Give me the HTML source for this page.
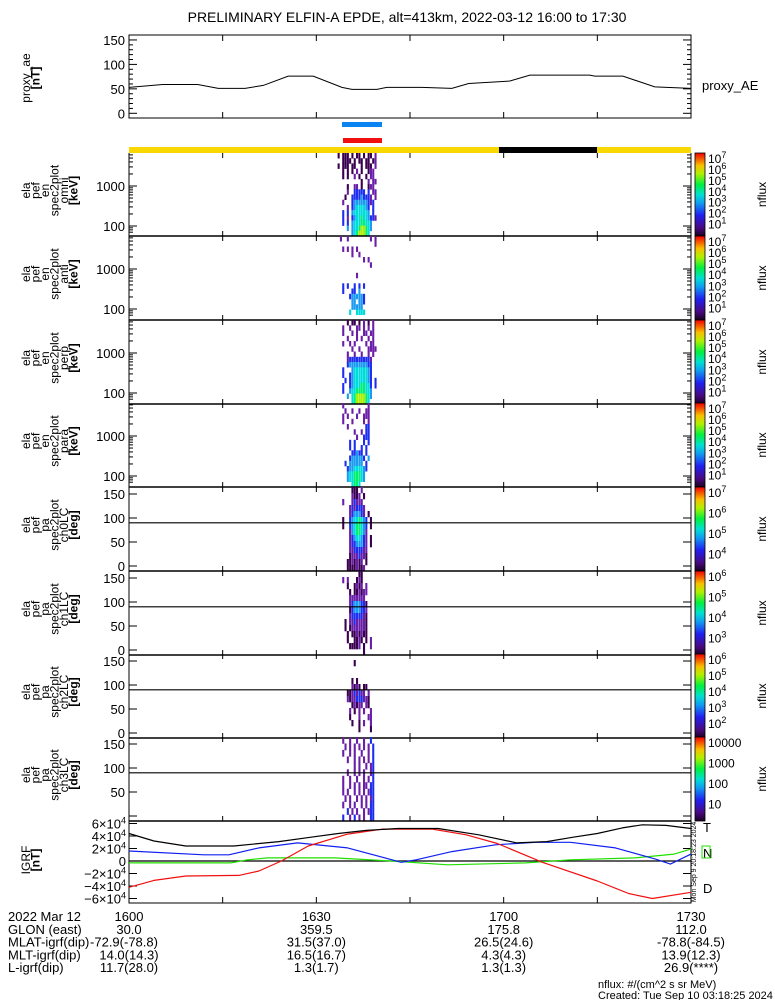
<!DOCTYPE html>
<html><head><meta charset="utf-8">
<style>
html,body{margin:0;padding:0;background:#fff;}
body{width:775px;height:1000px;position:relative;overflow:hidden;font-family:"Liberation Sans",sans-serif;}
svg{position:absolute;left:0;top:0;}
text{font-family:"Liberation Sans",sans-serif;fill:#000;}
</style></head>
<body>
<svg id="chart" width="775" height="1000" viewBox="0 0 775 1000"></svg>
<script>
// ---- data ----
const aeTimes = [0,5.4,11,14.3,18.6,21.5,25.5,29.5,34.1,35.7,39.7,41.3,46.9,51.7,54.4,61,64.2,73.8,74.6,79.1,84.2,90];
const aeValues = [53,59,59,51,51,57,76,76,53,49,49,53,53,51,61,66,78,78,76,76,54,51];
const aeTicks = [0,50,100,150];

const igrfTimes = [0,4,9.1,16.8,24,29,33.5,38,43,49.5,56,62.1,66.9,71,75,79,82.2,86,90];
const igrfT = [4.4e4,3.2e4,2.4e4,2.4e4,3.1e4,3.8e4,4.4e4,4.9e4,5.2e4,5.2e4,4.2e4,2.9e4,3.1e4,3.8e4,4.4e4,5.3e4,5.8e4,5.7e4,5.2e4];
const nTimes = [0,12,16,20.8,27,35,43.6,46,51.7,58.7,65.1,70.7,77.9,84.3,86.7,90];
const igrfN = [1.6e4,1.0e4,1.0e4,2.1e4,2.9e4,2.1e4,-0.2e4,0.2e4,1.5e4,2.6e4,3.0e4,3.0e4,2.1e4,0.3e4,-0.5e4,1.1e4];
const zTimes = [0,16.3,19,22.2,33,42,51,63.5,70.7,81,87.3,90];
const igrfZ = [-0.3e4,-0.3e4,0.2e4,0.5e4,0.5e4,0,-0.6e4,-0.3e4,0.2e4,0.5e4,1.1e4,1.9e4];
const dTimes = [0,4,9.1,17.6,20.8,24.4,28.7,35,40.6,48.6,54,59,66.2,75,80,83.8,90];
const igrfD = [-4.2e4,-3.1e4,-2.4e4,-2.3e4,-1.6e4,0,2.4e4,4.3e4,5.1e4,5.1e4,4.2e4,2.8e4,-0.2e4,-3.2e4,-5.2e4,-6e4,-5e4];
const igrfTicks = [-6,-4,-2,0,2,4,6];

const specStart = 33.4; // minutes after 1600 for first column
const specColMin = 0.37;
const omniRows = [
"0.000.0.00.0.00.1..",
"..0000.0.00.00.01..",
"0.000.00..0.000.1..",
"..0.0.0.1.0..011...",
"..0.0..1.0..0.11...",
"..........0..1.11..",
"....0..11.0..011...",
"....1..22222.2.11..",
"...0..222232221.1..",
"..1...2333333212...",
"....1.23444432.2...",
"..2.2.34444443.2...",
"..2.1.23445443221..",
"..2.2.344455443....",
"....3.344566543....",
"......34566654....."];
const antiRows = [
".1..1.........1.1..",
"................1..",
"..1.1.1.1..........",
"......1..1.........",
"...........1.1.....",
"..............1....",
"...................",
"........1..........",
"...................",
"..2.2..2.2.2.......",
"..2...22.3.........",
".....2333332.......",
"......33.332.......",
"......33333........",
".....4..4444.......",
"...................."];
const perpRows = [
"....0.00.0.1.0.1...",
"..1..1..11.1.1.1...",
"..1...1.1..11.11...",
"....1...1.1..1.1...",
"..1..1.1....1.11...",
"......1..1...1111..",
"....1..1..1..1.1...",
"....12222222221....",
"....23333333322....",
"..2...344444432....",
"..2..2344444432....",
"...2.2344444432.2..",
"..2..2344455442.2..",
"..2..3445555443....",
"....3.456666543....",
"......45666654....."];
const paraRows = [
"..1..........1.....",
"...1..1..1..11.....",
"..1.1...1..111.....",
"..1...1....1.1.....",
"....1.......22.....",
".......1..1.22.....",
"........1..222.....",
".....2.2...2.2.....",
".....2.2..2.2......",
"......22322.2......",
".....2333332.3.....",
"...2.333333.2......",
"....233444432......",
"....34455543.......",
"....34455543.......",
"......4554........."];
const ch0Rows = [
"......000.1........",
"......1001.0.......",
"..1...12111........",
".....1212221.......",
".....1233321.0.....",
"..0..23445432.0....",
"..0..23455432.0....",
".....13455431......",
".....12344321.0....",
".....12233321.0....",
".....11222211......",
".....01112110......",
"....0010101.0......",
"....00001001......."];
const ch1Rows = [
".........00........",
"..1.1...010........",
"....0..0101.1......",
".....0.001011......",
".....1111111.......",
".....12333220......",
".....02333221......",
".....12222210......",
"...0.11211110......",
"...0.01111110......",
"....0.0010100......",
"....0..0010.0.1....",
".....00001.0..1....",
"...........0......."];
const ch2Rows = [
"...................",
".......0...........",
"...................",
"...................",
"......0.0..........",
"......1010.00......",
"....00121211.1.....",
"....1011222110.....",
"......01011.10.....",
".....1.0.1.1..1....",
".....0...1...11....",
"......0..0.1..1....",
".........0....0....",
"...................."];
const ch3Rows = [
"..1..1..1..1..2....",
"...1.1.1.1.1.1.2...",
"..1..1.1..1..1.2...",
"....1..1.1.1.1.2...",
".......1.1..1.12...",
"....1..1.1.1..12...",
"..1..1..1..1.1.2...",
"..1..1.1.1.11.22...",
"..1.1..1.1.1.122...",
"...1.1..1.1.1.12...",
"..1..1.1..1.1.22...",
"....2.1.1..1.122...",
"..2..1.2.1.1..22..."];

// ---- helpers ----
const svg = document.getElementById('chart');
const NS = 'http://www.w3.org/2000/svg';
const X0 = 129, X1 = 691, TMAX = 90;
function xT(t){ return X0 + (X1 - X0) * t / TMAX; }
function mk(tag, attrs, parent){
  const e = document.createElementNS(NS, tag);
  for (const k in attrs) e.setAttribute(k, attrs[k]);
  (parent || svg).appendChild(e);
  return e;
}
function txt(x, y, s, size, anchor, parent){
  const t = mk('text', {x:x, y:y, 'font-size':size||13, 'text-anchor':anchor||'start'}, parent);
  t.textContent = s;
  return t;
}
const palette = ['#3a0050','#6a1fa8','#1e2ef0','#1a9af0','#00dcdc','#00f070','#a8f000'];

// ---- title ----
const title = txt(407, 22, 'PRELIMINARY ELFIN-A EPDE, alt=413km, 2022-03-12 16:00 to 17:30', 14, 'middle');



// ---- AE panel ----
const aeG = mk('g', {});


function yAE(v){ return 113.3 - v * 0.489; }
mk('rect', {x:X0, y:35, width:X1-X0, height:83, fill:'none', stroke:'#000', 'stroke-width':1}, aeG);
aeTicks.forEach(v=>{
  const y = yAE(v);
  mk('line', {x1:X0, x2:X0+8, y1:y, y2:y, stroke:'#000'}, aeG);
  mk('line', {x1:X1-8, x2:X1, y1:y, y2:y, stroke:'#000'}, aeG);
  const l = txt(X0-4, y+5, String(v), 13, 'end', aeG);
  
  
});
for (let v=10; v<150; v+=10){ if(v%50){ const y=yAE(v); mk('line',{x1:X0,x2:X0+4,y1:y,y2:y,stroke:'#000'},aeG); mk('line',{x1:X1-4,x2:X1,y1:y,y2:y,stroke:'#000'},aeG);} }
const aeLine = mk('polyline', {points: aeTimes.map((t,i)=>xT(t)+','+yAE(aeValues[i])).join(' '), fill:'none', stroke:'#000', 'stroke-width':1}, aeG);


const aeLeg = txt(702, 90, 'proxy_AE', 13, 'start', aeG);


function rotLabel(lines, cy, parent){
  const g = mk('g', {}, parent);
  lines.forEach((s,i)=>{
    const x = 30 + i*9.5;
    const t = mk('text', {x:0, y:0, 'font-size':12, 'text-anchor':'middle', transform:'translate('+x+','+cy+') rotate(-90)'}, g);
    if (s.startsWith('[')) t.setAttribute('font-weight','bold');
    t.textContent = s;
  });
  return g;
}
const aeLab = rotLabel(['proxy_ae','[nT]'], 78, aeG);


for (let i=1;i<6;i++){ const x=xT(i*15); mk('line',{x1:x,x2:x,y1:118,y2:112,stroke:'#000'},aeG); mk('line',{x1:x,x2:x,y1:35,y2:41,stroke:'#000'},aeG); }

// ---- bars ----
const bb = mk('rect', {x:342, y:122, width:40, height:5, fill:'#0a84f0'});


const rb = mk('rect', {x:343, y:138, width:39, height:5, fill:'#f01010'});


const yb = mk('rect', {x:X0, y:147, width:X1-X0, height:6, fill:'#f8d800'});


const kb = mk('rect', {x:499, y:147, width:98, height:6, fill:'#000'});



// ---- spectrogram panels ----
const panels = [
  {name:'omni', top:153, rows:omniRows, lab:['ela','pef','en','spec2plot','omni','[keV]'], type:'en', cb:['7','6','5','4','3','2','1']},
  {name:'anti', top:236, rows:antiRows, lab:['ela','pef','en','spec2plot','anti','[keV]'], type:'en', cb:['7','6','5','4','3','2','1']},
  {name:'perp', top:320, rows:perpRows, lab:['ela','pef','en','spec2plot','perp','[keV]'], type:'en', cb:['7','6','5','4','3','2','1']},
  {name:'para', top:403, rows:paraRows, lab:['ela','pef','en','spec2plot','para','[keV]'], type:'en', cb:['7','6','5','4','3','2','1']},
  {name:'ch0lc', top:487, rows:ch0Rows, lab:['ela','pef','pa','spec2plot','ch0LC','[deg]'], type:'pa', cb:['7','6','5','4']},
  {name:'ch1lc', top:571, rows:ch1Rows, lab:['ela','pef','pa','spec2plot','ch1LC','[deg]'], type:'pa', cb:['6','5','4','3']},
  {name:'ch2lc', top:654, rows:ch2Rows, lab:['ela','pef','pa','spec2plot','ch2LC','[deg]'], type:'pa', cb:['6','5','4','3','2']},
  {name:'ch3lc', top:737, rows:ch3Rows, lab:['ela','pef','pa','spec2plot','ch3LC','[deg]'], type:'pa', cb:['10000','1000','100','10']}
];
const defs = mk('defs', {});
const grad = mk('linearGradient', {id:'rainbow', x1:0, y1:1, x2:0, y2:0}, defs);
[['0','#1a0020'],['0.1','#4a0a80'],['0.25','#2020f0'],['0.4','#10a0f0'],['0.5','#00e0d0'],['0.62','#00f040'],['0.75','#b0f000'],['0.85','#f8c000'],['1','#f00000']].forEach(s=>mk('stop',{offset:s[0],'stop-color':s[1]},grad));

panels.forEach(p=>{
  const h = (p.name==='omni') ? 83 : 84;
  const bot = p.top + h;
  const g = mk('g', {});
  
  
  const nr = p.rows.length, rh = h / nr;
  const cw = xT(specColMin) - xT(0);
  p.rows.forEach((row, r)=>{
    for (let c=0; c<row.length; c++){
      const ch = row[c];
      if (ch === '.') continue;
      const x = xT(specStart + c*specColMin);
      const cell = mk('rect', {x:x.toFixed(1), y:(p.top + r*rh).toFixed(1), width:(cw*0.9).toFixed(2), height:(rh+0.3).toFixed(1), fill:palette[+ch]}, g);
      
      
    }
  });
  mk('line', {x1:X0, x2:X1, y1:bot, y2:bot, stroke:'#000', 'stroke-width':1.5}, g);
  mk('line', {x1:X0, x2:X0, y1:p.top, y2:bot, stroke:'#000'}, g);
  mk('line', {x1:X1, x2:X1, y1:p.top, y2:bot, stroke:'#000'}, g);
  if (p.type === 'en'){
    const yE = e => p.top + 33 - 40*Math.log10(e/1000);
    [100,1000].forEach(e=>{
      const y = yE(e);
      mk('line',{x1:X0,x2:X0+8,y1:y,y2:y,stroke:'#000'},g);
      mk('line',{x1:X1-8,x2:X1,y1:y,y2:y,stroke:'#000'},g);
      const l = txt(X0-4, y+5, String(e), 13, 'end', g);
      
      
    });
    [70,80,90,200,300,400,500,600,700,800,900,2000,3000,4000,5000,6000,7000].forEach(e=>{
      const y = yE(e); if (y < p.top || y > bot) return;
      mk('line',{x1:X0,x2:X0+4,y1:y,y2:y,stroke:'#000'},g);
      mk('line',{x1:X1-4,x2:X1,y1:y,y2:y,stroke:'#000'},g);
    });
  } else {
    const yP = a => p.top + 79 - a*0.48;
    [0,50,100,150].forEach(a=>{
      const y = yP(a);
      mk('line',{x1:X0,x2:X0+8,y1:y,y2:y,stroke:'#000'},g);
      mk('line',{x1:X1-8,x2:X1,y1:y,y2:y,stroke:'#000'},g);
      if (p.name==='ch3lc' && a===0) return;
      const l = txt(X0-4, y+5, String(a), 13, 'end', g);
      
      
    });
    const y90 = yP(90);
    const ln = mk('line',{x1:X0,x2:X1,y1:y90,y2:y90,stroke:'#000','stroke-width':1.2},g);
    
    
  }
  for (let i=1;i<6;i++){ const x=xT(i*15); mk('line',{x1:x,x2:x,y1:bot,y2:bot-5,stroke:'#000'},g); mk('line',{x1:x,x2:x,y1:p.top,y2:p.top+5,stroke:'#000'},g); }
  const lab = rotLabel(p.lab, p.top + h/2 - 4, g);
  
  
  const cb = mk('rect', {x:695, y:p.top, width:10, height:h, fill:'url(#rainbow)', stroke:'#000', 'stroke-width':0.8}, g);
  
  
  const n = p.cb.length;
  p.cb.forEach((s,i)=>{
    const y = p.top + 10 + i*(h-12)/(n-0.5);
    const t = mk('text', {x:708, y:y, 'font-size':12}, g);
    if (s.length === 1){
      t.textContent = '10';
      const sup = mk('tspan', {dy:-5, 'font-size':9}, t); sup.textContent = s;
    } else { t.textContent = s; }
    
    
  });
  const nf = mk('text', {x:0, y:0, 'font-size':12, 'text-anchor':'middle', transform:'translate(766,'+(p.top+h/2)+') rotate(-90)'}, g);
  nf.textContent = 'nflux';
  
  
});

// ---- IGRF panel ----
const ig = mk('g', {});


const yI = v => 861 - v * 37.5/6e4;
mk('rect', {x:X0, y:821, width:X1-X0, height:82, fill:'none', stroke:'#000'}, ig);
igrfTicks.forEach(k=>{
  const y = yI(k*1e4);
  mk('line',{x1:X0,x2:X0+8,y1:y,y2:y,stroke:'#000'},ig);
  mk('line',{x1:X1-8,x2:X1,y1:y,y2:y,stroke:'#000'},ig);
  const t = mk('text', {x:X0-3, y:y+5, 'font-size':13, 'text-anchor':'end'}, ig);
  if (k === 0) t.textContent = '0';
  else { t.textContent = (k<0?'−':'') + Math.abs(k) + '×10'; const s = mk('tspan',{dy:-5,'font-size':9},t); s.textContent='4'; }
  
  
});
mk('line',{x1:X0,x2:X1,y1:yI(0),y2:yI(0),stroke:'#000','stroke-width':1.2},ig);
function series(times, vals, color, name){
  const l = mk('polyline', {points: times.map((t,i)=>xT(t).toFixed(1)+','+yI(vals[i]).toFixed(1)).join(' '), fill:'none', stroke:color, 'stroke-width':1.2, 'stroke-linejoin':'round'}, ig);
  
  
}
series(zTimes, igrfZ, '#20e000', 'igrf-z-line');
series(nTimes, igrfN, '#1020f0', 'igrf-n-line');
series(dTimes, igrfD, '#f01010', 'igrf-d-line');
series(igrfTimes, igrfT, '#000', 'igrf-t-line');
const igLab = rotLabel(['IGRF','[nT]'], 860, ig);


[['T','#000',832],['N','#1020f0',858],['D','#f01010',893]].forEach(a=>{
  const t = txt(703, a[2], a[0], 13, 'start', ig);
  t.setAttribute('fill', a[1]);
  
  
});
mk('rect',{x:702,y:846,width:8,height:12,fill:'none',stroke:'#20e000'},ig);
const stamp = mk('text', {x:0,y:0,'font-size':7,'text-anchor':'middle',transform:'translate(696,862) rotate(-90)'}, ig);
stamp.textContent = 'Mon Sep  9 20:18:23 2024';


for (let i=1;i<6;i++){ const x=xT(i*15); mk('line',{x1:x,x2:x,y1:903,y2:897,stroke:'#000'},ig); }

// ---- bottom annotation table ----
const tickTimes = [0,30,60,90];
const tickLabels = ['1600','1630','1700','1730'];
const rowsTxt = [
  ['2022 Mar 12', tickLabels],
  ['GLON (east)', ['30.0','359.5','175.8','112.0']],
  ['MLAT-igrf(dip)', ['-72.9(-78.8)','31.5(37.0)','26.5(24.6)','-78.8(-84.5)']],
  ['MLT-igrf(dip)', ['14.0(14.3)','16.5(16.7)','4.3(4.3)','13.9(12.3)']],
  ['L-igrf(dip)', ['11.7(28.0)','1.3(1.7)','1.3(1.3)','26.9(****)']]
];
const tbl = mk('g', {});


rowsTxt.forEach((r,i)=>{
  const y = 921 + i*12.8;
  txt(8, y, r[0], 13, 'start', tbl);
  r[1].forEach((s,j)=>{
    const x = xT(tickTimes[j]);
    txt(x + (j===0 && i===2 ? -5 : 0), y, s, 13, 'middle', tbl);
  });
});
const f1 = txt(598, 988, 'nflux: #/(cm^2 s sr MeV)', 11, 'start');


const f2 = txt(598, 999, 'Created: Tue Sep 10 03:18:25 2024', 11, 'start');


</script>
</body></html>
